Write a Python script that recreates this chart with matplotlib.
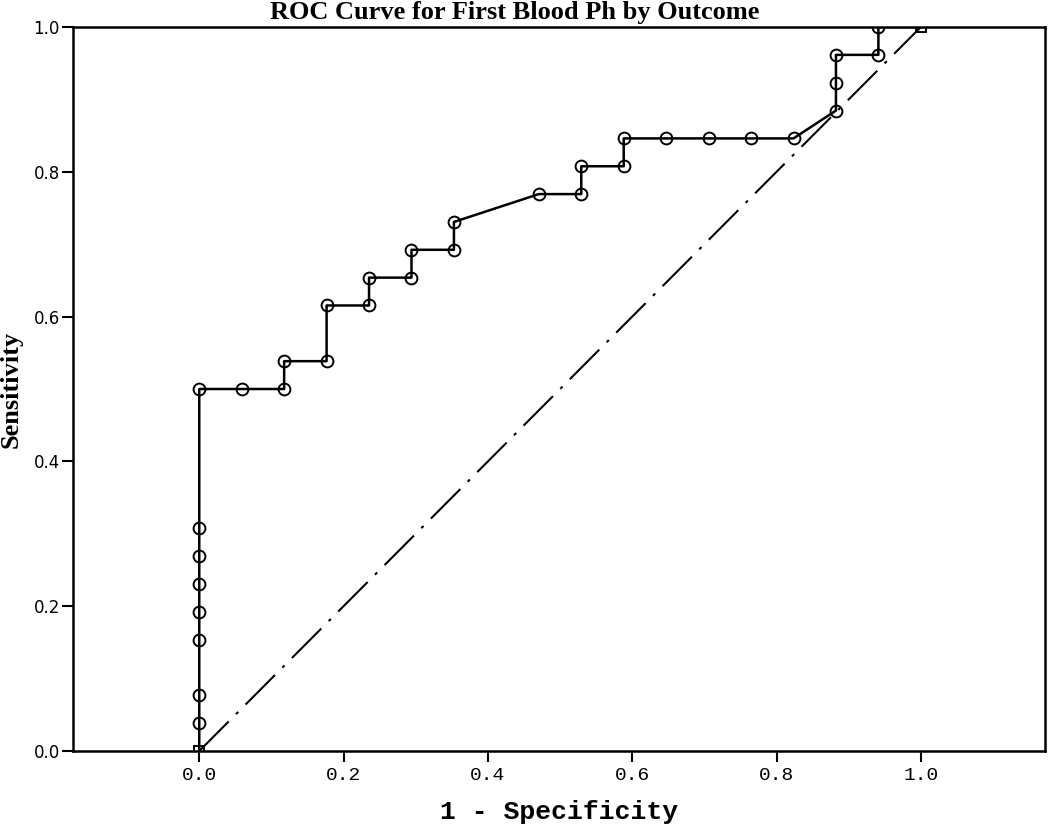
import matplotlib
matplotlib.use("Agg")
import matplotlib.pyplot as plt

# ROC points (1 - specificity, sensitivity)
fpr = [0, 0, 0, 0, 0, 0, 0, 0, 0,
       1/17, 2/17, 2/17, 3/17, 3/17, 4/17, 4/17, 5/17, 5/17, 6/17, 6/17,
       8/17, 9/17, 9/17, 10/17, 10/17, 11/17, 12/17, 13/17, 14/17,
       15/17, 15/17, 15/17, 16/17, 16/17, 1]
tpr = [0, 1/26, 2/26, 4/26, 5/26, 6/26, 7/26, 8/26, 13/26,
       13/26, 13/26, 14/26, 14/26, 16/26, 16/26, 17/26, 17/26, 18/26, 18/26, 19/26,
       20/26, 20/26, 21/26, 21/26, 22/26, 22/26, 22/26, 22/26, 22/26,
       23/26, 24/26, 25/26, 25/26, 1, 1]
ref_line = [0, 1]
ticks = [0.0, 0.2, 0.4, 0.6, 0.8, 1.0]

fig = plt.figure(figsize=(10.5, 8.24), dpi=100)
ax = fig.add_axes([0.0695, 0.0886, 0.9257, 0.8786])

ax.plot(ref_line, ref_line, color='black', linestyle=(0, (20, 5, 1.5, 5)), linewidth=1.5)
ax.plot(fpr, tpr, color='black', linewidth=1.8)
ax.plot(fpr[1:-1], tpr[1:-1], linestyle='none', marker='o', markersize=8.5,
        markerfacecolor='none', markeredgecolor='black', markeredgewidth=1.4)
ax.plot([fpr[0], fpr[-1]], [tpr[0], tpr[-1]], linestyle='none', marker='s', markersize=6.5,
        markerfacecolor='none', markeredgecolor='black', markeredgewidth=1.4)

ax.set_xlim(-0.175, 1.172)
ax.set_ylim(0, 1)
ax.set_xticks(ticks)
ax.set_yticks(ticks)
ax.set_xticklabels(['%.1f' % t for t in ticks], family='Liberation Mono', fontsize=14)
ax.set_yticklabels(['%.1f' % t for t in ticks], family='DejaVu Sans', fontsize=12)
ax.tick_params(axis='x', direction='out', length=8, width=1.5, pad=3.5)
ax.tick_params(axis='y', direction='out', length=8, width=1.5, pad=1.5)
for s in ax.spines.values():
    s.set_linewidth(1.8)

fig.text(0.49, 0.999, 'ROC Curve for First Blood Ph by Outcome', family='Liberation Serif',
         fontweight='bold', fontsize=19, ha='center', va='top')
ax.set_xlabel('1 - Specificity', family='Liberation Mono', fontweight='bold', fontsize=19)
ax.xaxis.set_label_coords(0.5, -0.068)
ax.set_ylabel('Sensitivity', family='Liberation Serif', fontweight='bold', fontsize=19)
ax.yaxis.set_label_coords(-0.052, 0.5)

fig.savefig('out.png', dpi=100)
